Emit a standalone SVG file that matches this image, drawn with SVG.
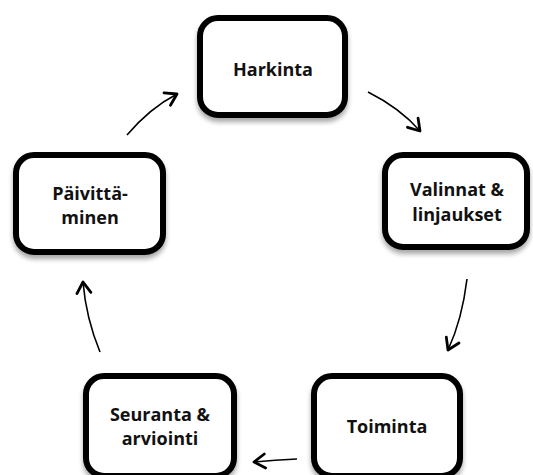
<svg xmlns="http://www.w3.org/2000/svg" width="533" height="475" viewBox="0 0 533 475">
  <style>
    .box { fill: #ffffff; stroke: #000000; stroke-width: 6; filter: url(#shadow); }
    .label { font-family: "Open Sans", "Liberation Sans", sans-serif; font-weight: bold; font-size: 18px; fill: #111111; text-anchor: middle; }
    .arc { fill: none; stroke: #000000; stroke-width: 1.6; marker-end: url(#head); }
  </style>
  <defs>
    <filter id="shadow" x="-10%" y="-10%" width="120%" height="130%">
      <feGaussianBlur in="SourceAlpha" stdDeviation="2.5"/>
      <feOffset dx="0" dy="4" result="blur"/>
      <feComponentTransfer><feFuncA type="linear" slope="0.35"/></feComponentTransfer>
      <feMerge><feMergeNode/><feMergeNode in="SourceGraphic"/></feMerge>
    </filter>
    <marker id="head" viewBox="-14 -9 16 18" markerWidth="16" markerHeight="18" refX="0" refY="0" orient="auto" markerUnits="userSpaceOnUse">
      <path d="M -11 -7 L 0 0 L -11 7" fill="none" stroke="#000000" stroke-width="2.8" stroke-linecap="round" stroke-linejoin="round"/>
    </marker>
  </defs>

  <!-- curved connectors around the cycle -->
  <g id="connectors">
    <path class="arc" d="M 368 92 Q 400 108 420 131"/>
    <path class="arc" d="M 467 279 Q 462 320 448 350"/>
    <path class="arc" d="M 297 459 Q 275 460 254 462"/>
    <path class="arc" d="M 100 352 Q 86 318 83 282"/>
    <path class="arc" d="M 127 135 Q 150 108 177 94"/>
  </g>

  <g id="harkinta">
    <rect class="box" x="200" y="18" width="145" height="97" rx="18"/>
    <text class="label" x="273" y="76">Harkinta</text>
  </g>

  <g id="valinnat">
    <rect class="box" x="385" y="155" width="142" height="92" rx="18"/>
    <text class="label" x="457" y="196">Valinnat &amp;</text>
    <text class="label" x="457" y="221">linjaukset</text>
  </g>

  <g id="toiminta">
    <rect class="box" x="314" y="376" width="146" height="100" rx="18"/>
    <text class="label" x="387" y="433">Toiminta</text>
  </g>

  <g id="seuranta">
    <rect class="box" x="86" y="376" width="148" height="100" rx="18"/>
    <text class="label" x="160" y="421">Seuranta &amp;</text>
    <text class="label" x="160" y="445">arviointi</text>
  </g>

  <g id="paivittaminen">
    <rect class="box" x="16" y="155" width="147" height="97" rx="18"/>
    <text class="label" x="90" y="200">Päivittä-</text>
    <text class="label" x="90" y="224">minen</text>
  </g>
</svg>
